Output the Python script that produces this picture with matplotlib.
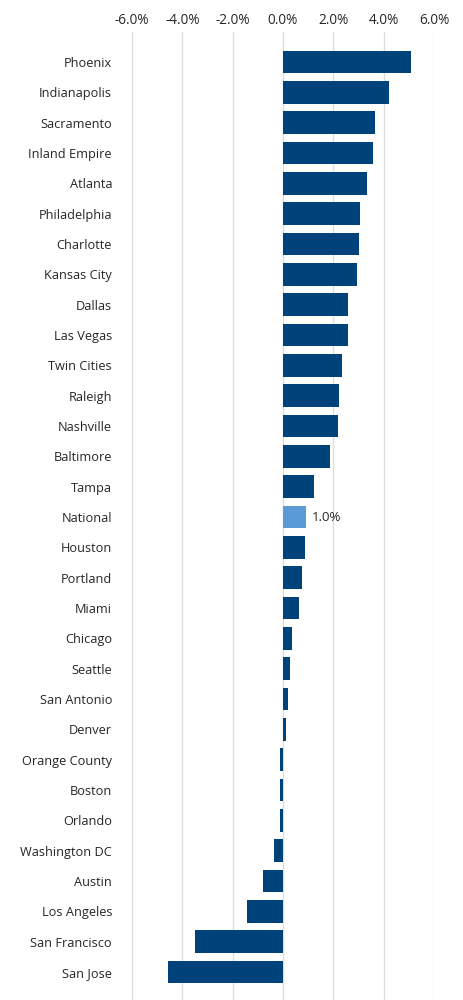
import numpy as np
import matplotlib.pyplot as plt
from matplotlib.ticker import FuncFormatter

# --- Data ---
cities = ['Phoenix', 'Indianapolis', 'Sacramento', 'Inland Empire', 'Atlanta',
          'Philadelphia', 'Charlotte', 'Kansas City', 'Dallas', 'Las Vegas',
          'Twin Cities', 'Raleigh', 'Nashville', 'Baltimore', 'Tampa',
          'National', 'Houston', 'Portland', 'Miami', 'Chicago', 'Seattle',
          'San Antonio', 'Denver', 'Orange County', 'Boston', 'Orlando',
          'Washington DC', 'Austin', 'Los Angeles', 'San Francisco', 'San Jose']
growth = [5.07, 4.22, 3.67, 3.57, 3.33,
          3.06, 3.00, 2.94, 2.58, 2.58,
          2.34, 2.22, 2.18, 1.87, 1.25,
          0.91, 0.86, 0.76, 0.62, 0.36, 0.28,
          0.18, 0.10, -0.13, -0.11, -0.13,
          -0.35, -0.78, -1.45, -3.48, -4.55]
highlight = 'National'
highlight_label = '1.0%'
ticks = [-6, -4, -2, 0, 2, 4, 6]

navy = '#00427A'
light = '#5B9BD5'
text_color = '#262626'

plt.rcParams['font.family'] = ['Open Sans', 'DejaVu Sans']

fig = plt.figure(figsize=(4.64, 10), dpi=100)
ax = fig.add_axes([132 / 464, 0.0, (434 - 132) / 464, 1 - 32 / 1000])

y = np.arange(len(cities))
colors = [light if c == highlight else navy for c in cities]
ax.barh(y, growth, height=0.75, color=colors, zorder=3)

# label for the highlighted bar
i = cities.index(highlight)
ax.text(growth[i] + 0.25, y[i], highlight_label, va='center', ha='left',
        fontsize=9.5, color=text_color)

ax.set_xlim(-6, 6)
ax.set_ylim(len(cities) - 1 + 0.92, -0.99)
ax.set_xticks(ticks)
ax.xaxis.set_major_formatter(FuncFormatter(lambda v, p: f'{v:.1f}%'))
ax.xaxis.tick_top()
ax.set_yticks(y)
ax.set_yticklabels(cities)
ax.tick_params(axis='both', length=0, colors=text_color)
ax.tick_params(axis='y', pad=14.4, labelsize=9.2)
ax.tick_params(axis='x', pad=3, labelsize=9.8)
ax.grid(axis='x', color='#dddddd', linewidth=1, zorder=0)
for s in ax.spines.values():
    s.set_visible(False)

plt.savefig('out.png', dpi=100)
